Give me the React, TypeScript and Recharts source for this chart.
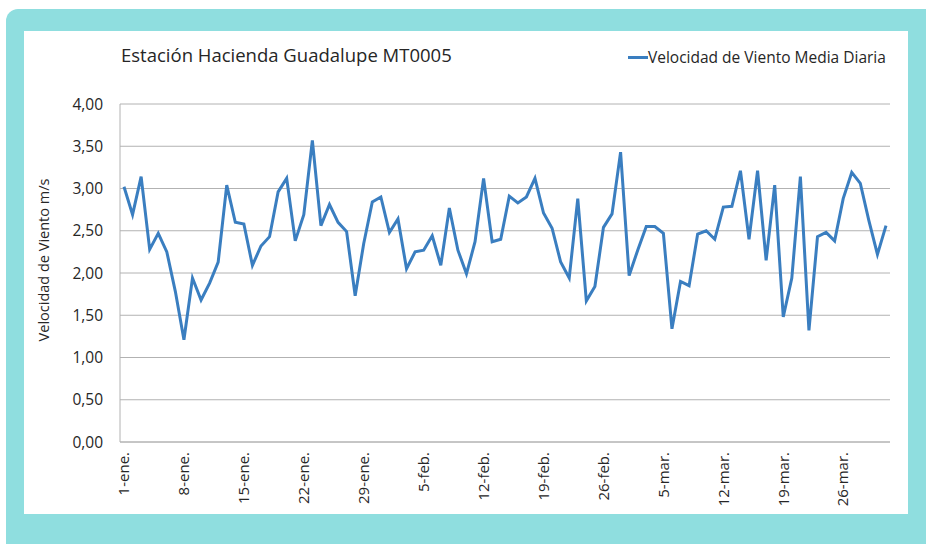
import { LineChart, Line, XAxis, YAxis, CartesianGrid, Legend } from 'recharts';

// Velocidad de viento media diaria, 1-ene a 31-mar (m/s)
const months: [string, number][] = [
  ['ene.', 31],
  ['feb.', 28],
  ['mar.', 31],
];

const windSpeed = [
  3.02, 2.69, 3.14, 2.28, 2.47, 2.25, 1.78, 1.21, 1.94, 1.68,
  1.88, 2.13, 3.04, 2.6, 2.58, 2.09, 2.32, 2.43, 2.96, 3.12,
  2.38, 2.69, 3.57, 2.56, 2.81, 2.6, 2.49, 1.73, 2.35, 2.84,
  2.9, 2.48, 2.64, 2.05, 2.25, 2.27, 2.44, 2.09, 2.77, 2.27,
  1.99, 2.37, 3.12, 2.37, 2.4, 2.91, 2.83, 2.9, 3.12, 2.71,
  2.53, 2.13, 1.94, 2.88, 1.67, 1.84, 2.54, 2.7, 3.43, 1.97,
  2.27, 2.55, 2.55, 2.47, 1.34, 1.9, 1.85, 2.46, 2.5, 2.4,
  2.78, 2.79, 3.21, 2.4, 3.21, 2.15, 3.04, 1.48, 1.94, 3.14,
  1.32, 2.43, 2.48, 2.38, 2.88, 3.19, 3.06, 2.62, 2.22, 2.56,
];

const yTicks = [0, 0.5, 1, 1.5, 2, 2.5, 3, 3.5, 4];

const days = months.flatMap(([m, n]) => Array.from({ length: n }, (_, i) => `${i + 1}-${m}`));
const data = days.map((day, i) => ({ day, value: windSpeed[i] }));

const FONT = '"Open Sans", "Noto Sans", sans-serif';
const TEXT = '#262626';
const LINE = '#3A7EC0';
const GRID = '#B2B2B2';
const TEAL = '#8FDEDF';

function XTick({ x, y, payload }: any) {
  return (
    <text
      x={x}
      y={y}
      transform={`rotate(-90, ${x}, ${y})`}
      textAnchor="end"
      dy="0.35em"
      fill={TEXT}
      fontSize={15}
      fontFamily={FONT}
    >
      {payload.value}
    </text>
  );
}

export default function App() {
  return (
    <div style={{ position: 'absolute', left: 0, top: 0, width: 926, height: 544, background: '#fff', overflow: 'hidden' }}>
      <div
        style={{
          position: 'absolute',
          left: 6,
          top: 9,
          width: 940,
          height: 560,
          background: TEAL,
          borderTopLeftRadius: 12,
        }}
      />
      <div style={{ position: 'absolute', left: 24, top: 31, width: 884, height: 483, background: '#fff' }} />
      <div
        style={{
          position: 'absolute',
          left: 121,
          top: 42,
          fontFamily: FONT,
          fontSize: 18.5,
          color: TEXT,
          whiteSpace: 'nowrap',
        }}
      >
        Estación Hacienda Guadalupe MT0005
      </div>
      <div
        style={{
          position: 'absolute',
          left: 43,
          top: 260,
          transform: 'translate(-50%, -50%) rotate(-90deg)',
          fontFamily: FONT,
          fontSize: 14.5,
          color: TEXT,
          whiteSpace: 'nowrap',
        }}
      >
        Velocidad de Viento m/s
      </div>
      <div style={{ position: 'absolute', left: 0, top: 0 }}>
        <LineChart width={926} height={544} data={data} margin={{ top: 104, right: 36, bottom: 2, left: 0 }}>
          <CartesianGrid vertical={false} stroke={GRID} strokeWidth={1} />
          <XAxis
            dataKey="day"
            interval={6}
            height={100}
            padding={{ left: 4, right: 4 }}
            tickLine={false}
            tickSize={0}
            tickMargin={10}
            axisLine={{ stroke: GRID }}
            tick={<XTick />}
          />
          <YAxis
            width={120}
            domain={[0, 4]}
            ticks={yTicks}
            tickFormatter={(v: number) => v.toFixed(2).replace('.', ',')}
            tickLine={false}
            tickSize={0}
            tickMargin={17}
            axisLine={{ stroke: GRID }}
            tick={{ fill: TEXT, fontSize: 15.5, fontFamily: FONT }}
          />
          <Legend
            layout="vertical"
            align="center"
            verticalAlign="middle"
            wrapperStyle={{ left: 628, top: 46, width: 'auto' }}
            content={() => (
              <div style={{ display: 'flex', alignItems: 'center', fontFamily: FONT, fontSize: 15.5, color: TEXT, whiteSpace: 'nowrap' }}>
                <span style={{ display: 'inline-block', width: 20, height: 3, background: LINE }} />
                Velocidad de Viento Media Diaria
              </div>
            )}
          />
          <Line
            type="linear"
            dataKey="value"
            name="Velocidad de Viento Media Diaria"
            stroke={LINE}
            strokeWidth={3}
            dot={false}
            isAnimationActive={false}
          />
        </LineChart>
      </div>
    </div>
  );
}
